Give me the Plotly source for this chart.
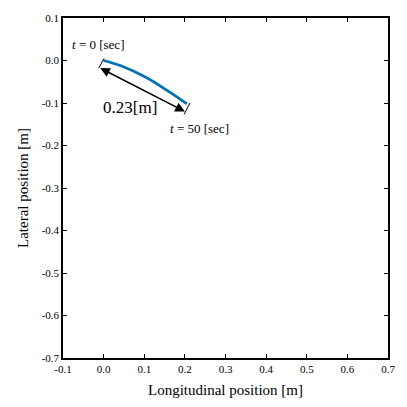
import plotly.graph_objects as go

# trajectory data
long_pos = [0.000, 0.044, 0.105, 0.157, 0.205]
lat_pos = [0.000, -0.013, -0.040, -0.071, -0.102]

# distance arrow endpoints
arrow_start = (-0.012, -0.016)
arrow_end = (0.200, -0.120)
# end bars
bar_start = [(-0.012, -0.018), (0.001, 0.005)]
bar_end = [(0.198, -0.127), (0.2125, -0.100)]

labels = [
    ("<i>t</i> = 0 [sec]", -0.0145, 0.037, 13),
    ("<i>t</i> = 50 [sec]", 0.237, -0.160, 13),
    ("0.23[m]", 0.0655, -0.1095, 17),
]

xticks = [-0.1, 0.0, 0.1, 0.2, 0.3, 0.4, 0.5, 0.6, 0.7]
yticks = [0.1, 0.0, -0.1, -0.2, -0.3, -0.4, -0.5, -0.6, -0.7]
x_title = "Longitudinal position [m]"
y_title = "Lateral position [m]"

FONT = "Liberation Serif, Times New Roman, serif"

fig = go.Figure()
fig.add_trace(go.Scatter(x=long_pos, y=lat_pos, mode="lines",
                         line=dict(color="#0072BD", width=2.8, shape="spline"),
                         showlegend=False, hoverinfo="skip"))

for b in (bar_start, bar_end):
    fig.add_trace(go.Scatter(x=[b[0][0], b[1][0]], y=[b[0][1], b[1][1]], mode="lines",
                             line=dict(color="black", width=1), showlegend=False,
                             hoverinfo="skip"))

fig.add_annotation(x=arrow_end[0], y=arrow_end[1], ax=arrow_start[0], ay=arrow_start[1],
                   xref="x", yref="y", axref="x", ayref="y", text="", showarrow=True,
                   arrowhead=2, startarrowhead=2, arrowside="end+start",
                   arrowsize=1.2, arrowwidth=1.6, arrowcolor="black",
                   startarrowsize=1.2)

for txt, x, y, s in labels:
    fig.add_annotation(x=x, y=y, xref="x", yref="y", text=txt, showarrow=False,
                       font=dict(family=FONT, size=s, color="black"))

fig.add_annotation(x=0.5, y=0, xref="paper", yref="paper", text=x_title, showarrow=False,
                   yanchor="middle", yshift=-32, font=dict(family=FONT, size=15, color="black"))
fig.add_annotation(x=0, y=0.5, xref="paper", yref="paper", text=y_title, showarrow=False,
                   xanchor="center", xshift=-40, textangle=-90,
                   font=dict(family=FONT, size=15, color="black"))

axis_common = dict(showgrid=False, zeroline=False, showline=True, linecolor="black",
                   linewidth=1.5, mirror="ticks", ticks="inside", ticklen=4,
                   tickcolor="black", tickfont=dict(family=FONT, size=11, color="black"))

fig.update_xaxes(range=[-0.1, 0.7], tickvals=xticks, ticktext=[f"{v:.1f}" for v in xticks],
                 **axis_common)
fig.update_yaxes(range=[-0.7, 0.1], tickvals=yticks, ticktext=[f"{v:.1f}" for v in yticks],
                 **axis_common)

fig.update_layout(width=407, height=407, margin=dict(l=63, r=12, t=13, b=49),
                  plot_bgcolor="white", paper_bgcolor="white")

fig.write_html("out.html", config={"displayModeBar": False},
               post_script="document.body.style.margin='0';")
